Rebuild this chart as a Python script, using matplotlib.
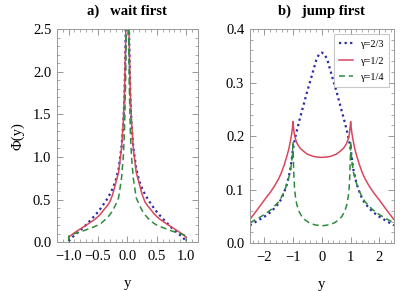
import numpy as np
import matplotlib
matplotlib.use("Agg")
import matplotlib.pyplot as plt
from matplotlib.ticker import MultipleLocator

plt.rcParams['font.family'] = ['Liberation Serif', 'DejaVu Serif']

# ---- a) wait first : values for y >= 0 (curves are symmetric) ----
wait_y = [0.008, 0.01, 0.02, 0.03, 0.05, 0.07, 0.1, 0.15, 0.2, 0.25, 0.3,
          0.35, 0.4, 0.45, 0.5, 0.55, 0.6, 0.65, 0.7, 0.75, 0.8, 0.85,
          0.9, 0.95, 0.98, 0.995, 1.0]
wait_g23 = [4.6, 4.0, 3.0, 2.4, 1.7, 1.38, 1.12, 0.86, 0.72, 0.63, 0.56,
            0.5, 0.45, 0.4, 0.355, 0.315, 0.278, 0.24, 0.205, 0.17, 0.14,
            0.11, 0.08, 0.05, 0.025, 0.015, 0.01]
wait_g12 = [4.5, 4.0, 2.9, 2.35, 1.75, 1.42, 1.1, 0.82, 0.69, 0.56, 0.47,
            0.42, 0.38, 0.335, 0.3, 0.27, 0.245, 0.222, 0.2, 0.178, 0.155,
            0.133, 0.11, 0.085, 0.068, 0.06, 0.055]
wait_g14 = [4.0, 3.5, 2.5, 1.9, 1.3, 1.0, 0.75, 0.52, 0.44, 0.37, 0.32,
            0.28, 0.25, 0.22, 0.2, 0.185, 0.17, 0.158, 0.145, 0.132, 0.12,
            0.11, 0.1, 0.088, 0.078, 0.072, 0.01]

# ---- b) jump first : values for y >= 0 ----
jump_y23 = [0.0, 0.1, 0.2, 0.3, 0.4, 0.5, 0.6, 0.7, 0.8, 0.9, 0.95, 1.0,
            1.05, 1.1, 1.2, 1.3, 1.4, 1.5, 1.75, 2.0, 2.25, 2.5]
jump_g23 = [0.356, 0.353, 0.341, 0.322, 0.303, 0.285, 0.265, 0.245, 0.225,
            0.203, 0.19, 0.176, 0.155, 0.136, 0.112, 0.096, 0.083, 0.074,
            0.059, 0.049, 0.041, 0.033]
jump_y12 = [0.0, 0.2, 0.3, 0.4, 0.5, 0.6, 0.75, 0.85, 0.92, 0.96, 0.99,
            1.0, 1.02, 1.05, 1.1, 1.15, 1.2, 1.3, 1.4, 1.5, 1.65, 1.8, 2.0,
            2.15, 2.3, 2.5]
jump_g12 = [0.160, 0.161, 0.162, 0.164, 0.166, 0.170, 0.177, 0.185, 0.195,
            0.205, 0.22, 0.227, 0.215, 0.203, 0.188, 0.175, 0.165, 0.147,
            0.132, 0.12, 0.106, 0.094, 0.08, 0.069, 0.058, 0.044]
jump_y14 = [0.0, 0.25, 0.45, 0.6, 0.7, 0.8, 0.87, 0.92, 0.95, 0.97, 0.99,
            1.0, 1.02, 1.05, 1.1, 1.2, 1.3, 1.4, 1.5, 1.75, 2.0, 2.25, 2.5]
jump_g14 = [0.032, 0.034, 0.038, 0.044, 0.05, 0.06, 0.072, 0.088, 0.105,
            0.125, 0.16, 0.19, 0.168, 0.15, 0.132, 0.112, 0.097, 0.086,
            0.077, 0.063, 0.053, 0.045, 0.038]

labels = ['γ=2/3', 'γ=1/2', 'γ=1/4']
colors = ['#2a2aa8', '#d9475e', '#2f8a3c']


def mirror(x, v):
    x = np.asarray(x, float)
    v = np.asarray(v, float)
    return np.concatenate([-x[::-1], x]), np.concatenate([v[::-1], v])


def style(ax, xmin, xmaj, ymin, ymaj):
    ax.xaxis.set_major_locator(MultipleLocator(xmaj))
    ax.xaxis.set_minor_locator(MultipleLocator(xmin))
    ax.yaxis.set_major_locator(MultipleLocator(ymaj))
    ax.yaxis.set_minor_locator(MultipleLocator(ymin))
    ax.tick_params(which='both', direction='in', top=True, right=True,
                   color='#888888', labelsize=10.5)
    ax.tick_params(axis='x', pad=6)
    ax.tick_params(axis='y', pad=4)
    ax.tick_params(which='major', length=4, width=0.6)
    ax.tick_params(which='minor', length=2, width=0.5)
    for s in ax.spines.values():
        s.set_color('#999999')
        s.set_linewidth(0.7)


fig = plt.figure(figsize=(4.15, 2.91), dpi=100)
ax1 = fig.add_axes([0.137, 0.168, 0.340, 0.732])
ax2 = fig.add_axes([0.602, 0.165, 0.347, 0.735])

dot = dict(color=colors[0], ls=(0, (1, 1.5)), lw=1.6)
dash = dict(color=colors[2], ls=(0, (4, 2.5)), lw=1.1)
solid = dict(color=colors[1], lw=1.1)

# a) wait first
x, v = mirror(wait_y, wait_g23)
ax1.plot(x, v, **dot)
x, v = mirror(wait_y, wait_g12)
ax1.plot(x, v, **solid)
x, v = mirror(wait_y, wait_g14)
ax1.plot(x, v, **dash)
ax1.set_xlim(-1.2, 1.2)
ax1.set_ylim(0, 2.5)
style(ax1, 0.1, 0.5, 0.1, 0.5)
ax1.xaxis.set_major_formatter(plt.FuncFormatter(lambda t, p: f'{t:.1f}'.replace('-', '\u2212')))
ax1.set_title('a)   wait first', fontsize=10.5, fontweight='bold', pad=10)
ax1.set_xlabel('y', fontsize=10.5, labelpad=10)
ax1.set_ylabel('Φ(y)', fontsize=10.5, labelpad=6)

# b) jump first
x, v = mirror(jump_y23, jump_g23)
ax2.plot(x, v, label=labels[0], **dot)
x, v = mirror(jump_y12, jump_g12)
ax2.plot(x, v, label=labels[1], **solid)
x, v = mirror(jump_y14, jump_g14)
ax2.plot(x, v, label=labels[2], **dash)
ax2.set_xlim(-2.5, 2.5)
ax2.set_ylim(0, 0.4)
style(ax2, 0.2, 1, 0.02, 0.1)
ax2.xaxis.set_major_formatter(plt.FuncFormatter(lambda t, p: f'{t:.0f}'.replace('-', '\u2212')))
ax2.set_title('b)   jump first', fontsize=10.5, fontweight='bold', pad=10)
ax2.set_xlabel('y', fontsize=10.5, labelpad=10)

leg = ax2.legend(loc='upper right', fontsize=7.5, frameon=True, fancybox=False,
                 handlelength=1.3, handletextpad=0.7, borderpad=0.5,
                 labelspacing=0.7, borderaxespad=0.0,
                 bbox_to_anchor=(0.965, 0.975))
leg.get_frame().set_edgecolor('#bbbbbb')
leg.get_frame().set_linewidth(0.8)

fig.savefig('out.png', dpi=100)
